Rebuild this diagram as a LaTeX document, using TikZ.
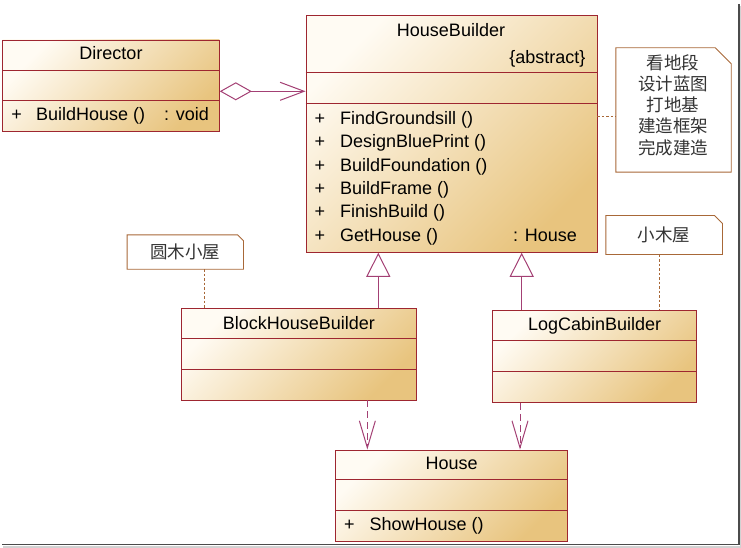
\documentclass[tikz,border=0pt]{standalone}
\usepackage{fontspec}
\setmainfont{Liberation Sans}
\newfontfamily\cjk{Noto Sans CJK SC}
\usepackage{tikz}
\usetikzlibrary{arrows.meta,positioning,calc}

\definecolor{clsline}{RGB}{158,38,48}
\definecolor{clslight}{RGB}{255,251,243}
\definecolor{clsdark}{RGB}{232,196,126}
\definecolor{relline}{RGB}{163,64,116}
\definecolor{noteline}{RGB}{168,104,56}
\definecolor{frameline}{RGB}{75,75,75}

\begin{document}
\begin{tikzpicture}[x=1pt, y=-1pt,
	cls/.style={draw=clsline, line width=0.9pt, top color=clslight, bottom color=clsdark, shading angle=45, inner sep=0pt},
	sep/.style={draw=clsline, line width=0.9pt},
	txt/.style={inner sep=0pt, font=\fontsize{18}{21}\selectfont},
	notebox/.style={draw=none, inner sep=0pt},
	noteedge/.style={draw=noteline, line width=0.9pt, fill=white},
	notetxt/.style={inner sep=0pt, font=\cjk\fontsize{17.5}{21}\selectfont, text=black!80},
	anchorline/.style={draw=noteline, line width=0.9pt, dash pattern=on 2.5pt off 2pt},
	agg/.style={draw=relline, line width=1pt, {Diamond[open,length=32pt,width=18pt]}-{Straight Barb[length=24pt,width=18pt]}},
	gen/.style={draw=relline, line width=1pt, -{Triangle[open,length=24pt,width=24pt]}},
	dep/.style={draw=relline, line width=1pt, dash pattern=on 7pt off 4pt, -{Straight Barb[length=27pt,width=16pt]}}
	]
	\useasboundingbox (0,0) rectangle (741,548);

	% window frame
	\draw[gray!35, line width=2pt] (741,6) -- (741,547) -- (3,547);
	\draw[frameline, line width=1.3pt] (739,4) -- (739,544.5) -- (2,544.5);

	% classes
	\node[cls, minimum width=216.6pt, minimum height=91.7pt] (dir) at (111,85.85) {};
	\node[cls, minimum width=291pt, minimum height=236.6pt] (hb) at (451.5,134) {};
	\node[cls, minimum width=234.3pt, minimum height=91.3pt] (bhb) at (298.85,354.35) {};
	\node[cls, minimum width=204pt, minimum height=91.6pt] (lcb) at (594.7,356.5) {};
	\node[cls, minimum width=232pt, minimum height=91pt] (house) at (451.7,495.5) {};

	% compartments
	\draw[sep] ($(dir.north west)+(0,31)$) -- ($(dir.north east)+(0,31)$);
	\draw[sep] ($(dir.north west)+(0,61)$) -- ($(dir.north east)+(0,61)$);
	\draw[sep] ($(hb.north west)+(0,57.6)$) -- ($(hb.north east)+(0,57.6)$);
	\draw[sep] ($(hb.north west)+(0,88.3)$) -- ($(hb.north east)+(0,88.3)$);
	\draw[sep] ($(bhb.north west)+(0,30.3)$) -- ($(bhb.north east)+(0,30.3)$);
	\draw[sep] ($(bhb.north west)+(0,61)$) -- ($(bhb.north east)+(0,61)$);
	\draw[sep] ($(lcb.north west)+(0,30.3)$) -- ($(lcb.north east)+(0,30.3)$);
	\draw[sep] ($(lcb.north west)+(0,61)$) -- ($(lcb.north east)+(0,61)$);
	\draw[sep] ($(house.north west)+(0,30)$) -- ($(house.north east)+(0,30)$);
	\draw[sep] ($(house.north west)+(0,60.7)$) -- ($(house.north east)+(0,60.7)$);

	% class texts
	\node[txt, anchor=base] (dirname) at (111,60) {Director};
	\node[txt, anchor=base] (dirplus) at (16.7,120.7) {+};
	\node[txt, anchor=base west] (dirop) at (36,120.7) {BuildHouse ()};
	\node[txt, anchor=base west] (dirret) at (164,120.7) {: void};

	\node[txt, anchor=base] (hbname) at (451,36.7) {HouseBuilder};
	\node[txt, anchor=base east] (hbabs) at (585.7,63.3) {\{abstract\}};
	\foreach \op [count=\i] in {FindGroundsill (),DesignBluePrint (),BuildFoundation (),BuildFrame (),FinishBuild (),GetHouse ()} {
		\node[txt, anchor=base] (hbplus\i) at (320,{124.5+23.3*(\i-1)}) {+};
		\node[txt, anchor=base west] (hbop\i) at (340,{124.5+23.3*(\i-1)}) {\op};
	}
	\node[txt, anchor=base west] (hbret) at (513,241) {: House};

	\node[txt, anchor=base] (bhbname) at (298.85,329) {BlockHouseBuilder};
	\node[txt, anchor=base] (lcbname) at (594.7,330.7) {LogCabinBuilder};
	\node[txt, anchor=base] (housename) at (451.7,469) {House};
	\node[txt, anchor=base] (houseplus) at (349.3,530.7) {+};
	\node[txt, anchor=base west] (houseop) at (369.3,530.7) {ShowHouse ()};

	% notes
	\node[notebox, minimum width=115pt, minimum height=124pt] (nt1) at (673.5,110) {};
	\draw[noteedge] (nt1.north west) -- ([xshift=-16pt]nt1.north east) -- ([yshift=-16pt]nt1.north east) -- (nt1.south east) -- (nt1.south west) -- cycle;
	\foreach \t [count=\i] in {看地段,设计蓝图,打地基,建造框架,完成建造}
		\node[notetxt, anchor=base] (nt1line\i) at (673,{69.2+21.25*(\i-1)}) {\t};

	\node[notebox, minimum width=116pt, minimum height=34pt] (nt2) at (185.3,252) {};
	\draw[noteedge] (nt2.north west) -- ([xshift=-6pt]nt2.north east) -- ([yshift=-6pt]nt2.north east) -- (nt2.south east) -- (nt2.south west) -- cycle;
	\node[notetxt, anchor=base] (nt2txt) at (185.3,258.2) {圆木小屋};

	\node[notebox, minimum width=116.3pt, minimum height=38.6pt] (nt3) at (664.15,235) {};
	\draw[noteedge] (nt3.north west) -- ([xshift=-8pt]nt3.north east) -- ([yshift=-8pt]nt3.north east) -- (nt3.south east) -- (nt3.south west) -- cycle;
	\node[notetxt, anchor=base] (nt3txt) at (664.15,241.5) {小木屋};

	% note anchors
	\draw[anchorline] ([yshift=18pt]hb.east) -- ([yshift=18pt]hb.east -| nt1.west);
	\draw[anchorline] ([xshift=18.7pt]nt2.south) -- ([xshift=18.7pt]nt2.south |- bhb.north);
	\draw[anchorline] ([xshift=-5pt]nt3.south) -- ([xshift=-5pt]nt3.south |- lcb.north);

	% relations
	\draw[agg] ([yshift=-5.45pt]dir.east) -- ([yshift=-5.45pt]dir.east -| hb.west);
	\draw[gen] ([xshift=79.45pt]bhb.north) -- ([xshift=79.45pt]bhb.north |- hb.south);
	\draw[gen] ([xshift=-73pt]lcb.north) -- ([xshift=-73pt]lcb.north |- hb.south);
	\draw[dep] ([xshift=68.5pt]bhb.south) -- ([xshift=68.5pt]bhb.south |- house.north);
	\draw[dep] ([xshift=-74.7pt]lcb.south) -- ([xshift=-74.7pt]lcb.south |- house.north);
\end{tikzpicture}
\end{document}
